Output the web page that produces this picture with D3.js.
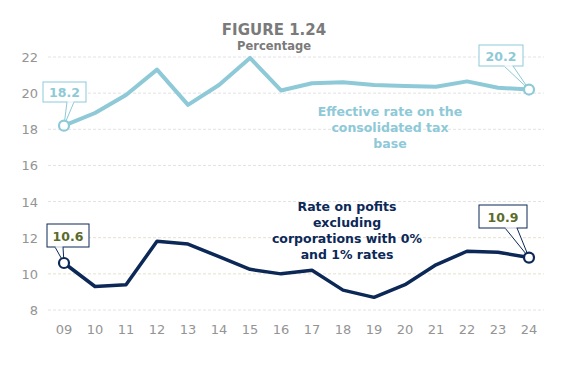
<!DOCTYPE html>
<html>
<head>
<meta charset="utf-8">
<script src="https://cdn.jsdelivr.net/npm/d3@7"></script>
<style>
  body { margin: 0; background: #fff; }
  svg { display: block; font-family: "DejaVu Sans", Verdana, sans-serif; }
</style>
</head>
<body>
<div id="chart"></div>
<script>
const years = ["09", "10", "11", "12", "13", "14", "15", "16", "17", "18", "19", "20", "21", "22", "23", "24"];
const effectiveRate = [18.2, 18.9, 19.9, 21.3, 19.35, 20.45, 21.95, 20.15, 20.55, 20.6, 20.45, 20.4, 20.35, 20.65, 20.3, 20.2];
const excludingRate = [10.6, 9.3, 9.4, 11.8, 11.65, 10.95, 10.25, 10.0, 10.2, 9.1, 8.7, 9.4, 10.5, 11.25, 11.2, 10.9];
const yTicks = [8, 10, 12, 14, 16, 18, 20, 22];

(function() {
  const width = 578;
  const height = 389;
  const lightBlue = "#8ec9d8";
  const navy = "#0c2857";
  const olive = "#5b6b2a";

  const svg = d3.select("#chart").append("svg")
    .attr("width", width).attr("height", height);

  const x = d3.scalePoint().domain(years).range([64, 529]);
  const y = d3.scaleLinear().domain([8, 22]).range([310, 57]);

  // Grid
  svg.append("g").selectAll("line")
    .data(yTicks)
    .join("line")
    .attr("x1", 48).attr("x2", 544)
    .attr("y1", d => y(d)).attr("y2", d => y(d))
    .attr("stroke", d => (d === 10 || d === 12) ? "#e6e0cf" : "#e2e2e2")
    .attr("stroke-dasharray", "3,2");

  // Y axis labels
  svg.append("g").selectAll("text")
    .data(yTicks)
    .join("text")
    .attr("x", 38).attr("y", d => y(d) + 5)
    .attr("text-anchor", "end")
    .attr("font-size", "13px")
    .attr("fill", "#949494")
    .text(d => d);

  // X axis labels
  svg.append("g").selectAll("text")
    .data(years)
    .join("text")
    .attr("x", d => x(d)).attr("y", 334)
    .attr("text-anchor", "middle")
    .attr("font-size", "13px")
    .attr("fill", "#949494")
    .text(d => d);

  // Title
  svg.append("text")
    .attr("x", 274).attr("y", 35)
    .attr("text-anchor", "middle")
    .attr("font-size", "15px").attr("font-weight", "bold")
    .attr("fill", "#7a7a7a")
    .text("FIGURE 1.24");
  svg.append("text")
    .attr("x", 274).attr("y", 50)
    .attr("text-anchor", "middle")
    .attr("font-size", "11.5px").attr("font-weight", "bold")
    .attr("fill", "#7a7a7a")
    .text("Percentage");

  const line = d3.line()
    .x((d, i) => x(years[i]))
    .y(d => y(d));

  function drawSeries(values, color, w) {
    svg.append("path")
      .datum(values)
      .attr("d", line)
      .attr("fill", "none")
      .attr("stroke", color)
      .attr("stroke-width", w)
      .attr("stroke-linejoin", "round");
  }
  drawSeries(effectiveRate, lightBlue, 4);
  drawSeries(excludingRate, navy, 3.5);

  // Callouts: box plus pointer toward the end point
  function callout(i, values, color, textColor, box, tip) {
    const px = x(years[i]), py = y(values[i]);
    const g = svg.append("g");
    g.append("path")
      .attr("d", `M${tip[0]},${box.y + box.h}L${px},${py}L${tip[1]},${box.y + box.h}`)
      .attr("fill", "#fff")
      .attr("stroke", color).attr("stroke-width", 1);
    g.append("rect")
      .attr("x", box.x).attr("y", box.y)
      .attr("width", box.w).attr("height", box.h)
      .attr("fill", "#fff")
      .attr("stroke", color).attr("stroke-width", 1);
    // cover the box bottom between the pointer legs
    g.append("line")
      .attr("x1", tip[0] + 0.5).attr("x2", tip[1] - 0.5)
      .attr("y1", box.y + box.h).attr("y2", box.y + box.h)
      .attr("stroke", "#fff").attr("stroke-width", 1.5);
    g.append("text")
      .attr("x", box.x + box.w / 2).attr("y", box.y + box.h / 2 + 5)
      .attr("text-anchor", "middle")
      .attr("font-size", "12.5px").attr("font-weight", "bold")
      .attr("fill", textColor)
      .text(values[i].toFixed(1));
    g.append("circle")
      .attr("cx", px).attr("cy", py).attr("r", 5)
      .attr("fill", "#fff")
      .attr("stroke", color).attr("stroke-width", 2.2);
  }
  const last = years.length - 1;
  callout(0, effectiveRate, lightBlue, lightBlue, {x: 43, y: 82, w: 43, h: 20}, [67, 74]);
  callout(last, effectiveRate, lightBlue, lightBlue, {x: 479, y: 45, w: 44, h: 21}, [504, 513]);
  callout(0, excludingRate, navy, olive, {x: 47, y: 224, w: 42, h: 23}, [55, 63]);
  callout(last, excludingRate, navy, olive, {x: 479, y: 205, w: 48, h: 23}, [505, 517]);

  // Series annotations
  function note(lines, cx, y0, color) {
    svg.append("text")
      .attr("text-anchor", "middle")
      .attr("font-size", "12.5px").attr("font-weight", "bold")
      .attr("fill", color)
      .selectAll("tspan")
      .data(lines)
      .join("tspan")
      .attr("x", cx)
      .attr("y", (d, i) => y0 + i * 16)
      .text(d => d);
  }
  note(["Effective rate on the", "consolidated tax", "base"], 390, 116, lightBlue);
  note(["Rate on pofits", "excluding", "corporations with 0%", "and 1% rates"], 347, 211, navy);
})();
</script>
</body>
</html>
